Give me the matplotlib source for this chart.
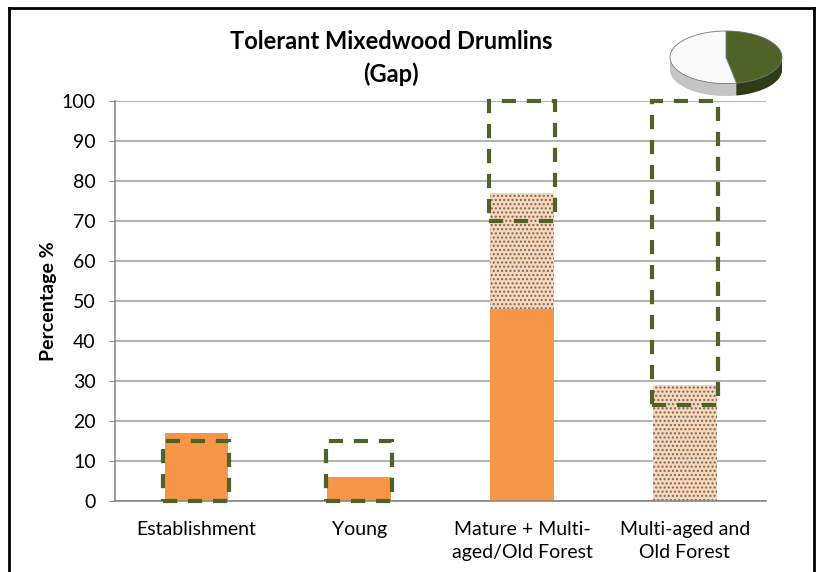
import numpy as np
import matplotlib.pyplot as plt
from matplotlib.patches import Rectangle
from matplotlib.lines import Line2D

# Data
categories = ["Establishment", "Young", "Mature + Multi-\naged/Old Forest", "Multi-aged and\nOld Forest"]
current = [17, 6, 48, 0]          # solid orange
future = [0, 0, 29, 29]           # stippled part stacked on top
range_low = [0, 0, 70, 24]        # dashed green target ranges
range_high = [15, 15, 100, 100]
pie_share = [47, 53]              # green, white

orange = "#f79646"
peach = "#fcd5b5"
green = "#4f6228"

plt.rcParams['font.family'] = ['Lato', 'DejaVu Sans']

fig = plt.figure(figsize=(8.16, 5.72), dpi=100)
ax = fig.add_axes([0.141, 0.124, 0.798, 0.699])

x = np.arange(len(categories))
ax.bar(x, current, width=0.39, color=orange, zorder=2)
ax.bar(x, future, width=0.39, bottom=current, color=peach, edgecolor="#6b6b6b",
       hatch="....", linewidth=0, zorder=2)

for xi, lo, hi in zip(x, range_low, range_high):
    ax.add_patch(Rectangle((xi - 0.2025, lo), 0.405, hi - lo, fill=False,
                           edgecolor=green, linewidth=3, linestyle=(0, (3.4, 2.6)),
                           zorder=3, clip_on=False))

ax.set_xlim(-0.5, len(categories) - 0.5)
ax.set_ylim(0, 100)
ax.set_yticks(range(0, 101, 10))
ax.set_xticks(x)
ax.set_xticklabels(categories, fontsize=14, linespacing=1.45)
ax.tick_params(axis='x', length=0, pad=14)
ax.tick_params(axis='y', labelsize=14, length=4, color="#888888", pad=10)
ax.yaxis.grid(True, color="#a6a6a6", linewidth=1.2)
ax.set_axisbelow(True)
for s in ['top', 'right']:
    ax.spines[s].set_visible(False)
for s in ['left', 'bottom']:
    ax.spines[s].set_color("#888888")
    ax.spines[s].set_linewidth(1.2)
ax.set_ylabel("Percentage %", fontsize=14, fontweight='bold', labelpad=3)
fig.text(391 / 816, 1 - 30 / 572, "Tolerant Mixedwood Drumlins\n(Gap)", ha='center', va='top',
         fontsize=17, fontweight='bold', linespacing=1.5)

# 3D-ish pie inset
pax = fig.add_axes([670 / 816, 1 - 96 / 572, 112 / 816, 65 / 572])
depth = 0.47
for k in np.linspace(depth, 0.0, 20):
    pax.pie(pie_share, colors=["#2f3c17", "#c4c4c4"], startangle=90, counterclock=False,
            center=(0, -k), radius=1, wedgeprops=dict(linewidth=0))
pax.pie(pie_share, colors=[green, "#fafafa"], startangle=90, counterclock=False,
        radius=1, wedgeprops=dict(linewidth=0.6, edgecolor="#777777"))
pax.set_aspect('auto')
pax.set_xlim(-1.0, 1.0)
pax.set_ylim(-1.0 - depth, 1.0)
pax.axis('off')

# outer frame
fig.add_artist(Line2D([9 / 816, 9 / 816], [0, 1 - 8 / 572], color='black', linewidth=2))
fig.add_artist(Line2D([9 / 816, 814 / 816], [1 - 8 / 572, 1 - 8 / 572], color='black', linewidth=2))
fig.add_artist(Line2D([814 / 816, 814 / 816], [0, 1 - 8 / 572], color='black', linewidth=2))

fig.savefig("out.png", dpi=100)
